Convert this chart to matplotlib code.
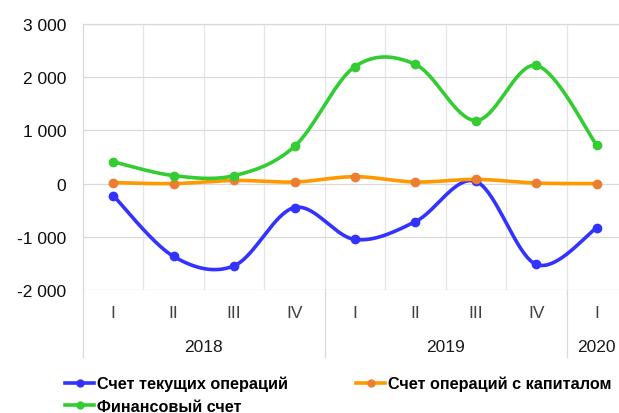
import numpy as np
import matplotlib
matplotlib.use("Agg")
import matplotlib.pyplot as plt
from matplotlib.ticker import FuncFormatter, FixedLocator
from matplotlib.transforms import blended_transform_factory

plt.rcParams['font.family'] = ['Liberation Sans', 'DejaVu Sans']

# data
quarters = ['I', 'II', 'III', 'IV', 'I', 'II', 'III', 'IV', 'I']
years = ['2018', '2019', '2020']
year_spans = [(0, 3), (4, 7), (8, 8)]
current_acc = [-225, -1370, -1545, -450, -1050, -715, 40, -1520, -830]
capital_acc = [20, 0, 60, 30, 130, 30, 80, 10, 0]
financial_acc = [410, 150, 150, 700, 2200, 2240, 1185, 2220, 720]

names = ['Счет текущих операций', 'Счет операций с капиталом', 'Финансовый счет']
line_colors = ['#3333ff', '#ff9900', '#33cc33']
marker_colors = ['#3333ff', '#ed7d31', '#33cc33']


def smooth(x, y, n=40):
    # Excel-style smoothed line: Catmull-Rom control points, cubic Bezier
    p = np.column_stack([x, y]).astype(float)
    pts = [p[0]]
    for i in range(len(p) - 1):
        p0 = p[i - 1] if i > 0 else p[i]
        p3 = p[i + 2] if i + 2 < len(p) else p[i + 1]
        c1 = p[i] + (p[i + 1] - p0) / 6
        c2 = p[i + 1] - (p3 - p[i]) / 6
        t = np.linspace(0, 1, n)[1:, None]
        seg = ((1 - t) ** 3 * p[i] + 3 * (1 - t) ** 2 * t * c1
               + 3 * (1 - t) * t ** 2 * c2 + t ** 3 * p[i + 1])
        pts.extend(seg)
    pts = np.array(pts)
    return pts[:, 0], pts[:, 1]


fig = plt.figure(figsize=(6.19, 4.14), dpi=100)
W, H = 619, 414
ax = fig.add_axes([83 / W, (H - 291) / H, 544 / W, 266 / H])

x = np.arange(len(quarters))
handles = []
for vals, name, lc, mc in zip([current_acc, capital_acc, financial_acc], names, line_colors, marker_colors):
    sx, sy = smooth(x, vals)
    ax.plot(sx, sy, color=lc, lw=2.6, solid_capstyle='round', zorder=3)
    ax.plot(x, vals, 'o', color=mc, ms=6, zorder=4)
    h, = ax.plot([], [], color=lc, lw=2.6, marker='o', ms=5, mfc=mc, mec=mc, label=name)
    handles.append(h)

ax.set_xlim(-0.5, len(quarters) - 0.5)
ax.set_ylim(-2000, 3000)
ax.set_yticks(np.arange(-2000, 3001, 1000))
ax.yaxis.set_major_formatter(FuncFormatter(lambda v, p: f'{int(v):,}'.replace(',', ' ')))
ax.tick_params(axis='y', length=0, pad=12, labelsize=12.5, labelcolor='#0d0d0d')
ax.set_xticks([])
ax.xaxis.set_minor_locator(FixedLocator(np.arange(0.5, len(quarters) - 0.5, 1)))
ax.tick_params(axis='x', which='minor', length=0)
ax.grid(axis='y', color='#d9d9d9', lw=0.9)
ax.grid(axis='x', which='minor', color='#e6e6e6', lw=0.9)
for s in ['right', 'bottom']:
    ax.spines[s].set_visible(False)
ax.spines['top'].set_color('#d9d9d9')
ax.spines['left'].set_color('#d9d9d9')
ax.spines['top'].set_linewidth(0.9)
ax.spines['left'].set_linewidth(0.9)

# two-level category axis
tr = blended_transform_factory(ax.transData, ax.transAxes)
for i, q in enumerate(quarters):
    ax.text(i, (291 - 314) / 266, q, transform=tr, ha='center', va='center', fontsize=12.5, color='#404040')
for yr, (a, b) in zip(years, year_spans):
    ax.text((a + b) / 2, (291 - 347) / 266, yr, transform=tr, ha='center', va='center', fontsize=12.5, color='#1a1a1a')
for xs in [-0.5, 3.5, 7.5]:
    ax.plot([xs, xs], [0, (291 - 358) / 266], transform=tr, color='#d9d9d9', lw=0.9, clip_on=False)

# legend columns: [current, financial], [capital]
order = [0, 2, 1]
leg = fig.legend([handles[i] for i in order], [names[i] for i in order],
                 loc='upper left', bbox_to_anchor=(65 / W, 1 - 377 / H), ncol=2, frameon=False,
                 prop={'weight': 'bold', 'size': 11.7}, handlelength=1.8, handletextpad=0.15,
                 columnspacing=4.2, labelspacing=0.45, borderpad=0, borderaxespad=0)

fig.savefig('out.png', dpi=100)
